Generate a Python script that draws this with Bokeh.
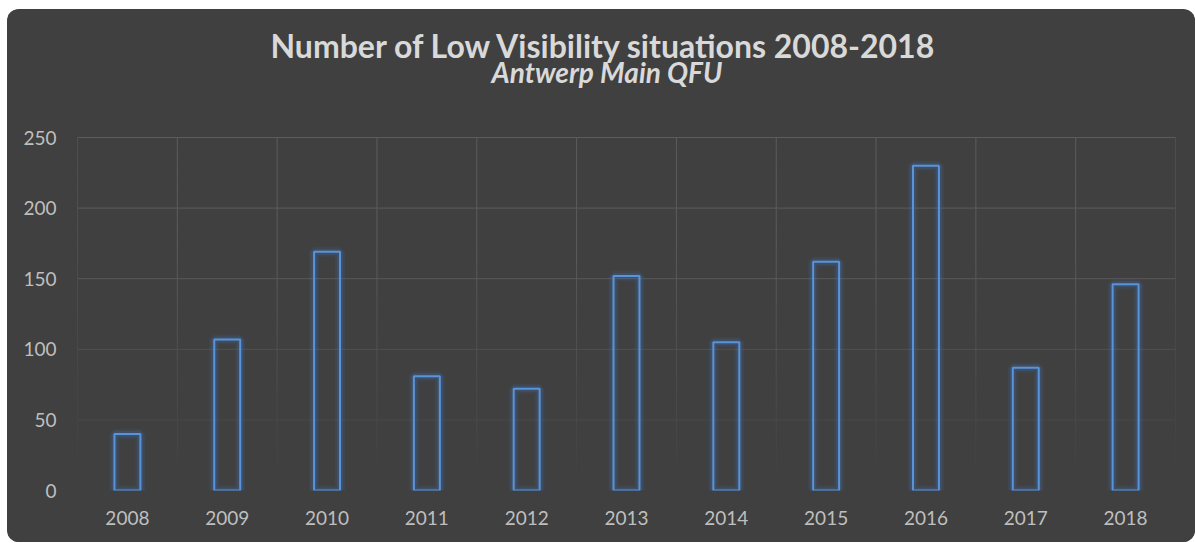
from bokeh.plotting import figure
from bokeh.models import Range1d, FixedTicker, BasicTickFormatter, Title, ColumnDataSource
from bokeh.embed import file_html
from bokeh.resources import INLINE

# ---- data ----
years = [2008, 2009, 2010, 2011, 2012, 2013, 2014, 2015, 2016, 2017, 2018]
counts = [40, 107, 169, 81, 72, 152, 105, 162, 230, 87, 146]
y_ticks = [0, 50, 100, 150, 200, 250]
title_text = "Number of Low Visibility situations 2008-2018"
subtitle_text = "Antwerp Main QFU"

BG = "#404040"
FONT = "Lato"
W, H = 1188, 533
ML, MR, MB = 70, 20, 52
GRID_TOP_PX = 128      # pixel row of the 250 gridline
FRAME_TOP_PX = 79      # frame extends above the grid to hold the titles close
bottom_px = H - MB
y_end = y_ticks[-1] * (bottom_px - FRAME_TOP_PX) / (bottom_px - GRID_TOP_PX)

p = figure(width=W, height=H, output_backend="svg", toolbar_location=None, tools="",
           x_range=Range1d(years[0] - 0.5, years[-1] + 0.5),
           y_range=Range1d(y_ticks[0], y_end),
           min_border_left=ML, min_border_right=MR, min_border_top=FRAME_TOP_PX,
           min_border_bottom=MB,
           background_fill_color=BG, border_fill_color=BG)
p.outline_line_color = None
p.styles = {"border-radius": "12px", "overflow": "hidden", "background-color": BG,
            "margin-left": "7px", "margin-top": "9px"}

xa = p.below[0]
ya = p.left[0]

# subtitle (closest to plot), then main title
p.add_layout(Title(text=subtitle_text, align="left", offset=414, standoff=0,
                   text_font=FONT, text_font_size="28px", text_font_style="bold italic",
                   text_color="#d9d9d9"), "above")
p.title.text = title_text
p.title.align = "left"
p.title.offset = 193
p.title.standoff = -24
p.title.text_font = FONT
p.title.text_font_size = "32px"
p.title.text_font_style = "bold"
p.title.text_color = "#d9d9d9"

# grid (fading toward bottom)
p.xgrid.visible = False
p.ygrid.visible = False
top = y_ticks[-1]
hx0 = [years[0] - 0.5] * len(y_ticks)
hx1 = [years[-1] + 0.5] * len(y_ticks)
halpha = [min(1.0, 0.03 + 1.4 * (t / top)) for t in y_ticks]
p.segment(x0=hx0, y0=y_ticks, x1=hx1, y1=y_ticks, line_color="#5c5c5c", line_width=1, line_alpha=halpha)

vx, vy0, vy1, va = [], [], [], []
steps = 25
for k in range(len(years) + 1):
    xb = years[0] - 0.5 + k
    for s in range(steps):
        a0 = top * s / steps
        a1 = top * (s + 1) / steps
        vx.append(xb); vy0.append(a0); vy1.append(a1)
        va.append(min(1.0, 0.03 + 1.4 * ((a0 + a1) / 2 / top)))
p.segment(x0=vx, y0=vy0, x1=vx, y1=vy1, line_color="#5c5c5c", line_width=1, line_alpha=va)

# bars with glow
src = ColumnDataSource(dict(x=years, top=counts))
bw = 0.26
p.vbar(x="x", top="top", bottom=0, width=bw, source=src, fill_color=None,
       line_color="#3d7fd6", line_alpha=0.10, line_width=10)
p.vbar(x="x", top="top", bottom=0, width=bw, source=src, fill_color=None,
       line_color="#3d7fd6", line_alpha=0.18, line_width=6)
p.vbar(x="x", top="top", bottom=0, width=bw, source=src, fill_color=None,
       line_color="#5b93d8", line_alpha=1.0, line_width=2)

# axes
for ax in (xa, ya):
    ax.axis_line_color = None
    ax.major_tick_line_color = None
    ax.minor_tick_line_color = None
    ax.major_tick_out = 0
    ax.major_tick_in = 0
    ax.minor_tick_out = 0
    ax.major_label_text_color = "#bfbfbf"
    ax.major_label_text_font = FONT
    ax.major_label_text_font_size = "19px"
xa.ticker = FixedTicker(ticks=years)
xa.formatter = BasicTickFormatter(use_scientific=False)
xa.major_label_standoff = 20
ya.ticker = FixedTicker(ticks=y_ticks)
ya.major_label_standoff = 21

open("out.html", "w").write(file_html(p, INLINE))
